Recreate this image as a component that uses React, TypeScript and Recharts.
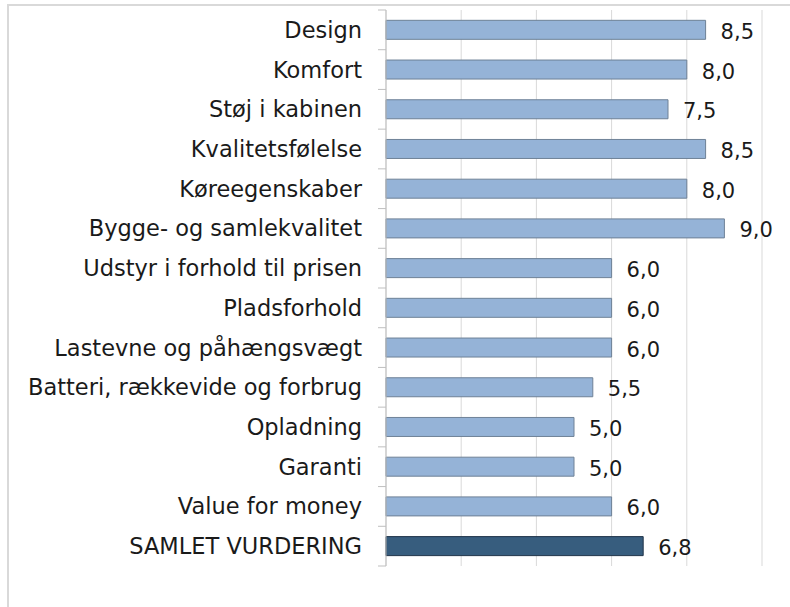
import { BarChart, Bar, XAxis, YAxis, CartesianGrid, LabelList, Cell } from "recharts";

const categories = [
  "Design",
  "Komfort",
  "Støj i kabinen",
  "Kvalitetsfølelse",
  "Køreegenskaber",
  "Bygge- og samlekvalitet",
  "Udstyr i forhold til prisen",
  "Pladsforhold",
  "Lastevne og påhængsvægt",
  "Batteri, rækkevide og forbrug",
  "Opladning",
  "Garanti",
  "Value for money",
  "SAMLET VURDERING",
];

const scores = [8.5, 8.0, 7.5, 8.5, 8.0, 9.0, 6.0, 6.0, 6.0, 5.5, 5.0, 5.0, 6.0, 6.84];

const xTicks = [0, 2, 4, 6, 8, 10];

const data = categories.map((name, i) => ({ name, score: scores[i] }));

const FONT = "'DejaVu Sans', sans-serif";
const TEXT = "#1a1a1a";
const AXIS = "#bfbfbf";

// excel-style category ticks: marks sit between the categories, not on them
function CategoryTick(props: any) {
  const { x, y, payload, index } = props;
  const half = payload?.offset ?? 556 / 14 / 2;
  return (
    <g>
      <text
        x={x}
        y={y}
        textAnchor="end"
        dominantBaseline="central"
        fontFamily={FONT}
        fontSize={22.5}
        fill={TEXT}
      >
        {payload.value}
      </text>
      {index === 0 && <line x1={x + 16} x2={x + 24} y1={y - half} y2={y - half} stroke={AXIS} />}
      <line x1={x + 16} x2={x + 24} y1={y + half} y2={y + half} stroke={AXIS} />
    </g>
  );
}

function ValueLabel(props: any) {
  const { x, y, width, height, value } = props;
  return (
    <text
      x={x + width + 15}
      y={y + height / 2 + 2}
      dominantBaseline="central"
      fontFamily={FONT}
      fontSize={21}
      fill={TEXT}
    >
      {Number(value).toFixed(1).replace(".", ",")}
    </text>
  );
}

export default function App() {
  return (
    <div
      style={{
        position: "fixed",
        left: 0,
        top: 0,
        width: 790,
        height: 607,
        overflow: "hidden",
        background: "#fff",
      }}
    >
      <div
        style={{
          position: "absolute",
          left: 7,
          top: 4,
          width: 800,
          height: 620,
          borderTop: "2px solid #d9d9d9",
          borderLeft: "2px solid #d9d9d9",
        }}
      />
      <div style={{ position: "absolute", left: 0, top: 0 }}>
        <BarChart
          width={790}
          height={607}
          data={data}
          layout="vertical"
          margin={{ top: 10, right: 28, bottom: 41, left: 0 }}
          barCategoryGap="26%"
        >
          <CartesianGrid horizontal={false} stroke="#d9d9d9" />
          <XAxis type="number" domain={[0, 10]} ticks={xTicks} hide />
          <YAxis
            type="category"
            dataKey="name"
            width={386}
            axisLine={{ stroke: AXIS }}
            tickLine={false}
            tickSize={0}
            tickMargin={24}
            tick={<CategoryTick />}
            interval={0}
          />
          <Bar dataKey="score" isAnimationActive={false} strokeWidth={1}>
            {data.map((d, i) => (
              <Cell
                key={d.name}
                fill={i === data.length - 1 ? "#375d7e" : "#95b3d7"}
                stroke={i === data.length - 1 ? "#1f3348" : "#6e8196"}
              />
            ))}
            <LabelList dataKey="score" content={<ValueLabel />} />
          </Bar>
        </BarChart>
      </div>
    </div>
  );
}
